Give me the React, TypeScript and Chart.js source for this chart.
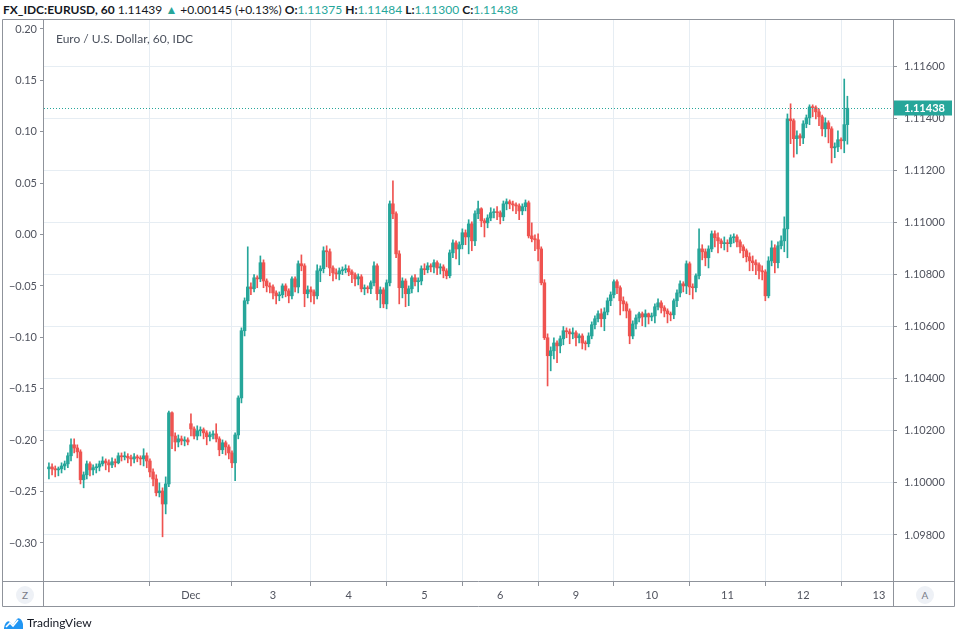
import React, { useEffect, useRef } from "react";
import { Chart, registerables } from "chart.js";

Chart.register(...registerables);

type Candle = [number, number, number, number]; // open, high, low, close

// Hourly EUR/USD candles, grouped by trading day
const nov28: Candle[] = [
  [1.10054, 1.10077, 1.10015, 1.10061], [1.10061, 1.10073, 1.10031, 1.10054], [1.10054, 1.10065, 1.10023, 1.1005],
  [1.1005, 1.10061, 1.10027, 1.10054], [1.10054, 1.10077, 1.10038, 1.10065], [1.10065, 1.10084, 1.1005, 1.10073],
  [1.10073, 1.10115, 1.10058, 1.10104], [1.10104, 1.10169, 1.10084, 1.10146], [1.10146, 1.10169, 1.10115, 1.10134],
  [1.10134, 1.10146, 1.10096, 1.10119], [1.10119, 1.10127, 1.09996, 1.10012], [1.10012, 1.10042, 1.09981, 1.10031],
  [1.10031, 1.10084, 1.10015, 1.10073], [1.10073, 1.10081, 1.10027, 1.1005], [1.1005, 1.10069, 1.10031, 1.10058],
  [1.10058, 1.10073, 1.10038, 1.10061], [1.10061, 1.10084, 1.10046, 1.10073], [1.10073, 1.101, 1.10065, 1.10084],
  [1.10084, 1.10092, 1.1005, 1.10077], [1.10077, 1.10088, 1.10042, 1.10069], [1.10069, 1.10096, 1.10058, 1.10081],
  [1.10081, 1.10092, 1.10061, 1.10077], [1.10077, 1.10115, 1.10073, 1.10104],
];
const nov29: Candle[] = [
  [1.10104, 1.10115, 1.10084, 1.101], [1.101, 1.10119, 1.10088, 1.10102], [1.10102, 1.10112, 1.10077, 1.10096],
  [1.10096, 1.10107, 1.10065, 1.10092], [1.10092, 1.10112, 1.10077, 1.101], [1.101, 1.10107, 1.10081, 1.10096],
  [1.10096, 1.10104, 1.10069, 1.10092], [1.10092, 1.10131, 1.10065, 1.10104], [1.10104, 1.10115, 1.10058, 1.10084],
  [1.10084, 1.10092, 1.10023, 1.10042], [1.10042, 1.10054, 1.09988, 1.10015], [1.10015, 1.10031, 1.0995, 1.09962],
  [1.09962, 1.1, 1.09946, 1.09969], [1.09969, 1.09981, 1.09793, 1.09919], [1.09919, 1.10023, 1.09881, 1.09996],
  [1.09996, 1.10276, 1.09985, 1.10269], [1.10269, 1.10273, 1.10131, 1.1018], [1.1018, 1.10192, 1.10123, 1.10157],
  [1.10157, 1.10184, 1.10138, 1.10169], [1.10169, 1.1018, 1.10146, 1.10161], [1.10161, 1.10177, 1.10142, 1.10165],
  [1.10165, 1.10173, 1.10146, 1.10157],
];
const dec1: Candle[] = [
  [1.10227, 1.10265, 1.1018, 1.10207], [1.10207, 1.10215, 1.10169, 1.1018],
];
const dec2: Candle[] = [
  [1.1018, 1.10219, 1.10165, 1.102], [1.102, 1.10215, 1.1018, 1.10204], [1.10204, 1.10211, 1.10169, 1.10192],
  [1.10192, 1.102, 1.10146, 1.10177], [1.10177, 1.10196, 1.10161, 1.10184], [1.10184, 1.102, 1.10169, 1.10188],
  [1.10188, 1.10227, 1.10157, 1.10169], [1.10169, 1.10177, 1.10104, 1.10127], [1.10127, 1.10165, 1.10112, 1.10154],
  [1.10154, 1.10161, 1.10107, 1.10138], [1.10138, 1.10146, 1.10092, 1.10115], [1.10115, 1.10123, 1.10058, 1.10077],
  [1.10077, 1.10192, 1.10008, 1.10184], [1.10184, 1.10334, 1.10169, 1.10326], [1.10326, 1.10595, 1.10307, 1.10584],
  [1.10584, 1.1071, 1.10564, 1.10699], [1.10699, 1.10906, 1.10687, 1.10752], [1.10752, 1.10768, 1.10722, 1.10745],
  [1.10745, 1.10799, 1.10733, 1.10787], [1.10787, 1.10795, 1.10749, 1.10783], [1.10783, 1.10871, 1.10772, 1.10845],
  [1.10845, 1.10856, 1.10749, 1.10775], [1.10775, 1.10783, 1.10733, 1.10756], [1.10756, 1.10768, 1.10729, 1.10752],
];
const dec3: Candle[] = [
  [1.10752, 1.1076, 1.10706, 1.10729], [1.10729, 1.10737, 1.10687, 1.10718], [1.10718, 1.10733, 1.10699, 1.10722],
  [1.10722, 1.10764, 1.1071, 1.10756], [1.10756, 1.10764, 1.10714, 1.10737], [1.10737, 1.10745, 1.10691, 1.10718],
  [1.10718, 1.10791, 1.10706, 1.10783], [1.10783, 1.10791, 1.10733, 1.10752], [1.10752, 1.10852, 1.10729, 1.10841],
  [1.10841, 1.10875, 1.10814, 1.10833], [1.10833, 1.10841, 1.10676, 1.10726], [1.10726, 1.10756, 1.1071, 1.10741],
  [1.10741, 1.10752, 1.10695, 1.10733], [1.10733, 1.10741, 1.10687, 1.10718], [1.10718, 1.10837, 1.10706, 1.10814],
  [1.10814, 1.10833, 1.10772, 1.10822], [1.10822, 1.10906, 1.10806, 1.10891], [1.10891, 1.1091, 1.10829, 1.10887],
  [1.10887, 1.10898, 1.10795, 1.10825], [1.10825, 1.10833, 1.10775, 1.10806], [1.10806, 1.10822, 1.10783, 1.10802],
  [1.10802, 1.10825, 1.10779, 1.10814], [1.10814, 1.10829, 1.10799, 1.10818], [1.10818, 1.10837, 1.10806, 1.10822],
];
const dec4: Candle[] = [
  [1.10822, 1.10833, 1.10795, 1.1081], [1.1081, 1.10818, 1.10768, 1.10799], [1.10799, 1.10806, 1.10756, 1.10783],
  [1.10783, 1.10802, 1.1076, 1.10791], [1.10791, 1.10799, 1.10733, 1.10745], [1.10745, 1.1076, 1.10722, 1.10749],
  [1.10749, 1.10756, 1.10729, 1.10745], [1.10745, 1.10775, 1.10726, 1.10768], [1.10768, 1.10848, 1.10756, 1.10833],
  [1.10833, 1.10841, 1.10702, 1.10726], [1.10726, 1.10752, 1.10672, 1.10741], [1.10741, 1.10749, 1.10672, 1.10687],
  [1.10687, 1.10779, 1.10668, 1.10768], [1.10768, 1.11082, 1.10756, 1.11071], [1.11071, 1.11159, 1.11014, 1.11033],
  [1.11033, 1.1104, 1.10864, 1.10879], [1.10879, 1.10891, 1.10687, 1.10749], [1.10749, 1.10787, 1.1071, 1.10775],
  [1.10775, 1.10783, 1.10676, 1.10726], [1.10726, 1.10756, 1.1068, 1.10745], [1.10745, 1.10795, 1.10729, 1.10787],
  [1.10787, 1.10799, 1.10756, 1.10772], [1.10772, 1.10787, 1.10733, 1.10775], [1.10775, 1.10833, 1.1076, 1.10822],
];
const dec5: Candle[] = [
  [1.10822, 1.10841, 1.10799, 1.10818], [1.10818, 1.10845, 1.10806, 1.10833], [1.10833, 1.10841, 1.1081, 1.10829],
  [1.10829, 1.10856, 1.10806, 1.10845], [1.10845, 1.10852, 1.10799, 1.10825], [1.10825, 1.10841, 1.10802, 1.10829],
  [1.10829, 1.10837, 1.10787, 1.10814], [1.10814, 1.10822, 1.10783, 1.10795], [1.10795, 1.10894, 1.10787, 1.10883],
  [1.10883, 1.10933, 1.10864, 1.10921], [1.10921, 1.10929, 1.1086, 1.10898], [1.10898, 1.10925, 1.10837, 1.10914],
  [1.10914, 1.10975, 1.10898, 1.1096], [1.1096, 1.10971, 1.10914, 1.10944], [1.10944, 1.1101, 1.10879, 1.10994],
  [1.10994, 1.11002, 1.10891, 1.10929], [1.10929, 1.11044, 1.1091, 1.11033], [1.11033, 1.11082, 1.11014, 1.11052],
  [1.11052, 1.11056, 1.10983, 1.11006], [1.11006, 1.11014, 1.10944, 1.10998], [1.10998, 1.11029, 1.10979, 1.11017],
  [1.11017, 1.11056, 1.11006, 1.11037], [1.11037, 1.11052, 1.11017, 1.1104], [1.1104, 1.1106, 1.1101, 1.11037],
];
const dec6: Candle[] = [
  [1.11037, 1.11044, 1.10994, 1.11021], [1.11021, 1.11082, 1.11006, 1.11071], [1.11071, 1.1109, 1.11048, 1.11079],
  [1.11079, 1.11086, 1.11052, 1.11071], [1.11071, 1.11082, 1.11044, 1.11067], [1.11067, 1.11075, 1.11033, 1.11063],
  [1.11063, 1.11071, 1.1101, 1.11044], [1.11044, 1.11071, 1.11029, 1.1106], [1.1106, 1.11086, 1.11044, 1.11075],
  [1.11075, 1.11082, 1.1094, 1.10948], [1.10948, 1.10998, 1.10925, 1.10937], [1.10937, 1.10952, 1.10891, 1.10933],
  [1.10933, 1.10956, 1.10852, 1.10898], [1.10898, 1.10906, 1.1076, 1.10768], [1.10768, 1.1078, 1.1055, 1.10557],
  [1.10557, 1.10572, 1.10372, 1.10488], [1.10488, 1.10522, 1.1043, 1.10507], [1.10507, 1.10557, 1.10476, 1.10537],
  [1.10537, 1.10545, 1.10461, 1.10526], [1.10526, 1.10564, 1.10499, 1.10553], [1.10553, 1.106, 1.1053, 1.10584],
  [1.10584, 1.10595, 1.10557, 1.1058],
];
const dec8: Candle[] = [
  [1.1058, 1.10591, 1.10534, 1.10572], [1.10572, 1.10595, 1.10553, 1.10576],
];
const dec9: Candle[] = [
  [1.10576, 1.10584, 1.10526, 1.10557], [1.10557, 1.10572, 1.10537, 1.10564], [1.10564, 1.10572, 1.10514, 1.10537],
  [1.10537, 1.10545, 1.1051, 1.10534], [1.10534, 1.10576, 1.10522, 1.10564], [1.10564, 1.10618, 1.10553, 1.10607],
  [1.10607, 1.10641, 1.10591, 1.1063], [1.1063, 1.1066, 1.10618, 1.10649], [1.10649, 1.10668, 1.10599, 1.1063],
  [1.1063, 1.10672, 1.10584, 1.10656], [1.10656, 1.1071, 1.10645, 1.10699], [1.10699, 1.10733, 1.1068, 1.10722],
  [1.10722, 1.10779, 1.1071, 1.10772], [1.10772, 1.10779, 1.10726, 1.10749], [1.10749, 1.10756, 1.10645, 1.10699],
  [1.10699, 1.10714, 1.1066, 1.10687], [1.10687, 1.10695, 1.10633, 1.1066], [1.1066, 1.10668, 1.10534, 1.10564],
  [1.10564, 1.10622, 1.10553, 1.1061], [1.1061, 1.10645, 1.10591, 1.10633], [1.10633, 1.10656, 1.10618, 1.10649],
  [1.10649, 1.10656, 1.10603, 1.10637], [1.10637, 1.10664, 1.10599, 1.10649], [1.10649, 1.10652, 1.1061, 1.10637],
];
const dec10: Candle[] = [
  [1.10637, 1.10652, 1.10622, 1.10641], [1.10641, 1.10687, 1.10614, 1.10676], [1.10676, 1.10706, 1.10664, 1.10691],
  [1.10691, 1.10699, 1.10652, 1.10672], [1.10672, 1.1068, 1.10637, 1.1066], [1.1066, 1.10668, 1.10614, 1.10649],
  [1.10649, 1.10656, 1.10622, 1.10645], [1.10645, 1.10706, 1.1063, 1.10699], [1.10699, 1.10741, 1.10676, 1.10729],
  [1.10729, 1.10775, 1.10714, 1.10764], [1.10764, 1.10772, 1.10733, 1.10756], [1.10756, 1.10852, 1.10726, 1.10841],
  [1.10841, 1.10848, 1.10722, 1.10752], [1.10752, 1.10764, 1.10706, 1.10749], [1.10749, 1.10802, 1.10733, 1.10795],
  [1.10795, 1.10975, 1.10783, 1.10898], [1.10898, 1.10914, 1.10856, 1.10887], [1.10887, 1.10898, 1.10833, 1.10864],
  [1.10864, 1.1091, 1.10825, 1.10898], [1.10898, 1.10967, 1.10887, 1.10956], [1.10956, 1.10967, 1.10906, 1.10941],
  [1.10941, 1.1096, 1.10883, 1.10929], [1.10929, 1.10937, 1.10902, 1.10918], [1.10918, 1.10944, 1.10894, 1.10921],
];
const dec11: Candle[] = [
  [1.10921, 1.10933, 1.10887, 1.10918], [1.10918, 1.10952, 1.10906, 1.10941], [1.10941, 1.10956, 1.10921, 1.10944],
  [1.10944, 1.10952, 1.10906, 1.10925], [1.10925, 1.10933, 1.10883, 1.10906], [1.10906, 1.10914, 1.10864, 1.10891],
  [1.10891, 1.10898, 1.10848, 1.10868], [1.10868, 1.10883, 1.10814, 1.10852], [1.10852, 1.10871, 1.10814, 1.10845],
  [1.10845, 1.10856, 1.10799, 1.10837], [1.10837, 1.10845, 1.10783, 1.10814], [1.10814, 1.10833, 1.10779, 1.1081],
  [1.1081, 1.10818, 1.10699, 1.10718], [1.10718, 1.10868, 1.1071, 1.10852], [1.10852, 1.10929, 1.10833, 1.10902],
  [1.10902, 1.10914, 1.10806, 1.10845], [1.10845, 1.10925, 1.10825, 1.1091], [1.1091, 1.10948, 1.10898, 1.10929],
  [1.10929, 1.11021, 1.10887, 1.10975], [1.10975, 1.11416, 1.10864, 1.11397], [1.11397, 1.11455, 1.11302, 1.1139],
  [1.1139, 1.11397, 1.1125, 1.11321], [1.11321, 1.11351, 1.11263, 1.11332], [1.11332, 1.1134, 1.11294, 1.11324],
];
const dec12: Candle[] = [
  [1.11324, 1.1139, 1.11302, 1.11378], [1.11378, 1.11412, 1.11363, 1.11401], [1.11401, 1.11451, 1.11375, 1.11443],
  [1.11443, 1.11451, 1.11405, 1.1144], [1.1144, 1.11447, 1.11397, 1.11424], [1.11424, 1.11436, 1.11371, 1.11405],
  [1.11405, 1.11412, 1.11332, 1.11359], [1.11359, 1.11401, 1.11328, 1.11382], [1.11382, 1.1139, 1.11305, 1.11359],
  [1.11359, 1.11367, 1.11228, 1.11286], [1.11286, 1.11305, 1.11248, 1.1129], [1.1129, 1.11351, 1.11271, 1.11317],
  [1.11317, 1.11324, 1.11282, 1.11313], [1.11313, 1.1155, 1.11267, 1.11375], [1.11375, 1.11484, 1.113, 1.11438],
];

// Axis ticks and labels
const dayTickIndex = [45, 71, 95, 119, 143, 167, 191, 215, 239, 263];
const dayTickLabels = ["Dec", "3", "4", "5", "6", "9", "10", "11", "12", "13"];
const priceTicks = [1.098, 1.1, 1.102, 1.104, 1.106, 1.108, 1.11, 1.112, 1.114, 1.116];
const changeTicks = [-0.3, -0.25, -0.2, -0.15, -0.1, -0.05, 0, 0.05, 0.1, 0.15, 0.2];
const lastPrice = 1.11438;

const UP = "#26a69a";
const DOWN = "#ef5350";
const GRID = "#e6edf3";
const FRAME = "#8f939b";
const TEXT = "#50535e";
const FONT = "Lato, 'Open Sans', sans-serif";

const noPad = (s: any) => {
  s.paddingTop = 0;
  s.paddingBottom = 0;
  s.paddingLeft = 0;
  s.paddingRight = 0;
};

export default function App() {
  const ref = useRef<HTMLCanvasElement>(null);

  useEffect(() => {
    const candles = [...nov28, ...nov29, ...dec1, ...dec2, ...dec3, ...dec4, ...dec5, ...dec6, ...dec8, ...dec9, ...dec10, ...dec11, ...dec12];
    const colors = candles.map((c) => (c[3] >= c[0] ? UP : DOWN));
    const bodies = candles.map((c, i) => ({ x: i, y: [c[0], c[3]] }));
    const wicks = candles.map((c, i) => ({ x: i, y: [c[2], c[1]] }));

    const framePlugin = {
      id: "frame",
      afterDraw(chart: any) {
        const { ctx, chartArea, width, height } = chart;
        const yS = chart.scales.y;
        const py = Math.round(yS.getPixelForValue(lastPrice)) + 0.5;
        ctx.save();
        // dotted last-price line
        ctx.strokeStyle = UP;
        ctx.lineWidth = 1;
        ctx.setLineDash([1, 2]);
        ctx.beginPath();
        ctx.moveTo(chartArea.left, py);
        ctx.lineTo(chartArea.right, py);
        ctx.stroke();
        ctx.setLineDash([]);
        // frame
        ctx.strokeStyle = FRAME;
        ctx.beginPath();
        ctx.rect(0.5, 0.5, width - 1, height - 1);
        ctx.moveTo(Math.round(chartArea.left) - 0.5, 0);
        ctx.lineTo(Math.round(chartArea.left) - 0.5, height);
        ctx.moveTo(Math.round(chartArea.right) + 0.5, 0);
        ctx.lineTo(Math.round(chartArea.right) + 0.5, height);
        ctx.moveTo(0, Math.round(chartArea.bottom) + 0.5);
        ctx.lineTo(width, Math.round(chartArea.bottom) + 0.5);
        ctx.stroke();
        // last price label
        const bx = Math.round(chartArea.right) + 1;
        ctx.fillStyle = UP;
        ctx.fillRect(bx, py - 8, width - bx - 3, 15);
        ctx.fillStyle = "#ffffff";
        ctx.font = `bold 11px ${FONT}`;
        ctx.textBaseline = "middle";
        ctx.textAlign = "left";
        ctx.fillText(lastPrice.toFixed(5), bx + 10, py);
        ctx.restore();
      },
    };

    const chart = new Chart(ref.current as HTMLCanvasElement, {
      type: "bar",
      data: {
        datasets: [
          {
            data: bodies as any,
            backgroundColor: colors,
            borderWidth: 0,
            barThickness: 2.8,
            minBarLength: 1,
            grouped: false,
            order: 0,
            xAxisID: "x",
            yAxisID: "y",
          } as any,
          {
            data: wicks as any,
            backgroundColor: colors,
            borderWidth: 0,
            barThickness: 1,
            grouped: false,
            order: 1,
            xAxisID: "x",
            yAxisID: "y",
          } as any,
        ],
      },
      options: {
        responsive: false,
        animation: false,
        layout: { padding: 0 },
        plugins: { legend: { display: false }, tooltip: { enabled: false } },
        scales: {
          x: {
            type: "linear",
            min: -1.56,
            max: 267.45,
            offset: false,
            afterBuildTicks: (s: any) => {
              s.ticks = dayTickIndex.map((v) => ({ value: v }));
            },
            afterFit: (s: any) => {
              s.height = 26;
              noPad(s);
            },
            ticks: {
              autoSkip: false,
              maxRotation: 0,
              padding: 3,
              color: TEXT,
              font: { family: FONT, size: 11 },
              callback: (v: any) => {
                const k = dayTickIndex.indexOf(Number(v));
                return k >= 0 ? dayTickLabels[k] : "";
              },
            },
            grid: { color: GRID, tickColor: FRAME, tickLength: 5 },
            border: { display: false },
          },
          y: {
            type: "linear",
            position: "right",
            min: 1.096234,
            max: 1.117804,
            afterBuildTicks: (s: any) => {
              s.ticks = priceTicks.map((v) => ({ value: v }));
            },
            afterFit: (s: any) => {
              s.width = 62;
              noPad(s);
            },
            ticks: {
              padding: 7,
              color: TEXT,
              font: { family: FONT, size: 11 },
              callback: (v: any) => Number(v).toFixed(5),
            },
            grid: { color: GRID, tickColor: FRAME, tickLength: 4 },
            border: { display: false },
          },
          yL: {
            type: "linear",
            position: "left",
            display: true,
            min: -0.337,
            max: 0.2097,
            afterBuildTicks: (s: any) => {
              s.ticks = changeTicks.map((v) => ({ value: v }));
            },
            afterFit: (s: any) => {
              s.width = 42;
              noPad(s);
            },
            ticks: {
              padding: 3,
              color: TEXT,
              font: { family: FONT, size: 11 },
              callback: (v: any) => {
                const n = Number(v);
                const t = Math.abs(n).toFixed(2);
                return n < -1e-9 ? "\u2212" + t : t;
              },
            },
            grid: { drawOnChartArea: false, tickColor: FRAME, tickLength: 4 },
            border: { display: false },
          },
        },
      } as any,
      plugins: [framePlugin],
    });
    return () => chart.destroy();
  }, []);

  const teal = { color: UP };
  const b = { fontWeight: 700 };
  const circle = (x: number, label: string) => (
    <div
      style={{
        position: "absolute",
        left: x - 9,
        top: 586,
        width: 18,
        height: 18,
        borderRadius: 9,
        background: "#eef1f6",
        color: "#787b86",
        fontSize: 10,
        lineHeight: "18px",
        textAlign: "center",
      }}
    >
      {label}
    </div>
  );

  return (
    <div style={{ position: "fixed", left: 0, top: 0, width: 958, height: 636, background: "#ffffff", fontFamily: FONT, overflow: "hidden" }}>
      <div style={{ position: "absolute", left: 3, top: 2, fontSize: 12, lineHeight: "16px", color: "#131722", whiteSpace: "nowrap" }}>
        <span style={b}>FX_IDC:EURUSD, 60</span> 1.11439 <span style={teal}>▲</span> +0.00145 (+0.13%){" "}
        <span style={b}>O:</span><span style={teal}>1.11375</span> <span style={b}>H:</span><span style={teal}>1.11484</span>{" "}
        <span style={b}>L:</span><span style={teal}>1.11300</span> <span style={b}>C:</span><span style={teal}>1.11438</span>
      </div>
      <canvas ref={ref} width={953} height={588} style={{ position: "absolute", left: 2, top: 19, width: 953, height: 588 }} />
      <div style={{ position: "absolute", left: 56, top: 31, fontSize: 12, color: "#4c525e", whiteSpace: "nowrap" }}>
        Euro / U.S. Dollar, 60, IDC
      </div>
      {circle(25, "Z")}
      {circle(925, "A")}
      <div style={{ position: "absolute", left: 3, top: 615, display: "flex", alignItems: "center" }}>
        <svg width="21" height="14" viewBox="0 0 21 14">
          <path d="M1 12 C2 6 5 4 7 6 L10 9 L14 3 C16 1 19 3 20 8 L20 13 L1 13 Z" fill="#2196f3" />
          <path d="M3 11 L7 7 L10 10 L15 4" stroke="#ffffff" strokeWidth="1.6" fill="none" />
        </svg>
        <span style={{ marginLeft: 3, fontSize: 12, color: "#131722" }}>TradingView</span>
      </div>
    </div>
  );
}
